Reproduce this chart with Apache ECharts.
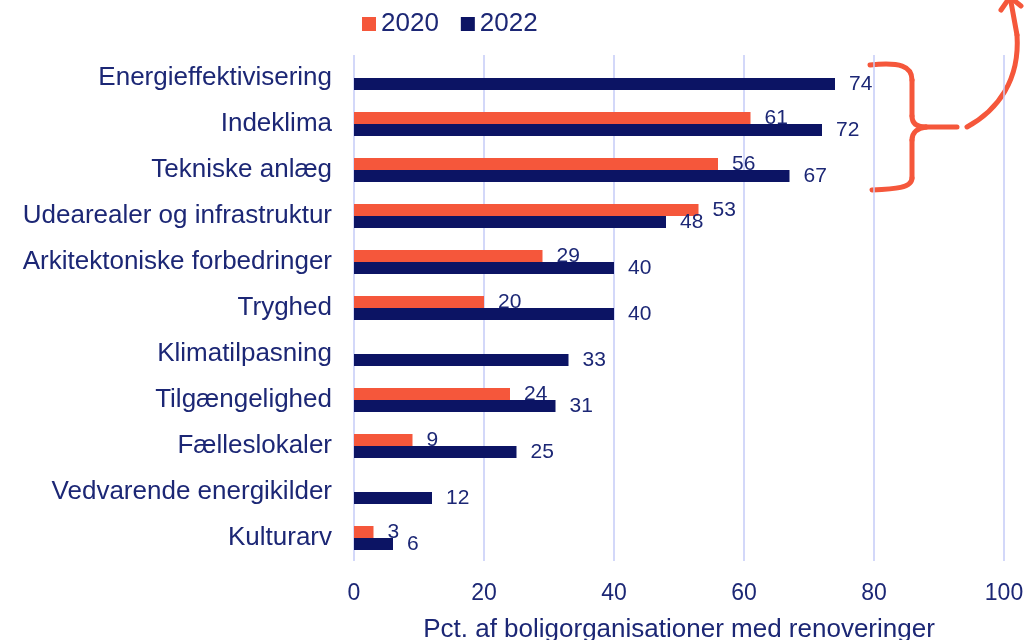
<!DOCTYPE html>
<html>
<head>
<meta charset="utf-8">
<script src="https://cdn.jsdelivr.net/npm/echarts@6/dist/echarts.min.js"></script>
<style>
  html, body { margin: 0; padding: 0; background: #fff; }
  #chart { width: 1028px; height: 640px; }
</style>
</head>
<body>
<div id="chart"></div>
<script>
// kategorier (fra top)
var categories = ['Energieffektivisering', 'Indeklima', 'Tekniske anlæg', 'Udearealer og infrastruktur',
  'Arkitektoniske forbedringer', 'Tryghed', 'Klimatilpasning', 'Tilgængelighed', 'Fælleslokaler',
  'Vedvarende energikilder', 'Kulturarv'];
// pct. 2020 ('-' = ikke spurgt)
var values2020 = ['-', 61, 56, 53, 29, 20, '-', 24, 9, '-', 3];
// pct. 2022
var values2022 = [74, 72, 67, 48, 40, 40, 33, 31, 25, 12, 6];
var xTicks = { min: 0, max: 100, interval: 20 };

var navy = '#0c1464';
var orange = '#f5573b';
var textColor = '#1c2775';
var font = 'Liberation Sans';

// stregstil til den håndtegnede klamme/pil
var pen = { fill: null, stroke: orange, lineWidth: 5, lineCap: 'round', lineJoin: 'round' };
function curve(x1, y1, cx1, cy1, cx2, cy2, x2, y2) {
  return { type: 'bezierCurve', shape: { x1: x1, y1: y1, cpx1: cx1, cpy1: cy1, cpx2: cx2, cpy2: cy2, x2: x2, y2: y2 }, style: pen };
}
function line(x1, y1, x2, y2) {
  return { type: 'line', shape: { x1: x1, y1: y1, x2: x2, y2: y2 }, style: pen };
}

var chart = echarts.init(document.getElementById('chart'));
var option = {
  animation: false,
  textStyle: { fontFamily: font },
  legend: {
    left: 357,
    top: 6,
    itemWidth: 14,
    itemHeight: 14,
    itemGap: 22,
    icon: 'rect',
    textStyle: { fontSize: 26, color: textColor, fontFamily: font },
    data: ['2020', '2022']
  },
  grid: {
    left: 354,
    right: 24,
    top: 55,
    bottom: 79,
    outerBoundsMode: 'none'
  },
  xAxis: {
    type: 'value',
    min: xTicks.min,
    max: xTicks.max,
    interval: xTicks.interval,
    name: 'Pct. af boligorganisationer med renoveringer',
    nameLocation: 'middle',
    nameGap: 56,
    nameTextStyle: { fontSize: 26, color: textColor, fontFamily: font },
    axisLine: { show: false },
    axisTick: { show: false },
    axisLabel: { fontSize: 23, color: textColor, margin: 21, fontFamily: font },
    splitLine: { lineStyle: { color: '#c5cbf7', width: 1.5 } }
  },
  yAxis: {
    type: 'category',
    inverse: true,
    data: categories,
    axisLine: { show: false },
    axisTick: { show: false },
    axisLabel: { fontSize: 26, color: textColor, margin: 22, padding: [5, 0, 0, 0], fontFamily: font }
  },
  series: [
    {
      name: '2020',
      type: 'bar',
      barWidth: 12,
      barGap: '0%',
      itemStyle: { color: orange },
      label: { show: true, position: 'right', distance: 14, fontSize: 21, color: textColor, fontFamily: font },
      data: values2020
    },
    {
      name: '2022',
      type: 'bar',
      barWidth: 12,
      barGap: '0%',
      itemStyle: { color: navy },
      label: { show: true, position: 'right', distance: 14, padding: [3, 0, 0, 0], fontSize: 21, color: textColor, fontFamily: font },
      data: values2022
    }
  ],
  // håndtegnet klamme og pil
  graphic: [
    curve(870, 65, 900, 62, 912, 66, 912, 80),
    line(912, 80, 912, 116),
    curve(912, 116, 912, 124, 918, 127, 926, 127),
    line(926, 127, 957, 127),
    curve(926, 127, 918, 128, 912, 132, 912, 140),
    line(912, 140, 912, 178),
    curve(912, 178, 912, 188, 895, 189, 872, 190),
    curve(967, 127, 998, 110, 1020, 80, 1017, 35),
    line(1017, 35, 1011, 2),
    { type: 'polyline', shape: { points: [[1001, 10], [1010, -3], [1021, 6]] }, style: pen }
  ]
};
chart.setOption(option);
</script>
</body>
</html>
